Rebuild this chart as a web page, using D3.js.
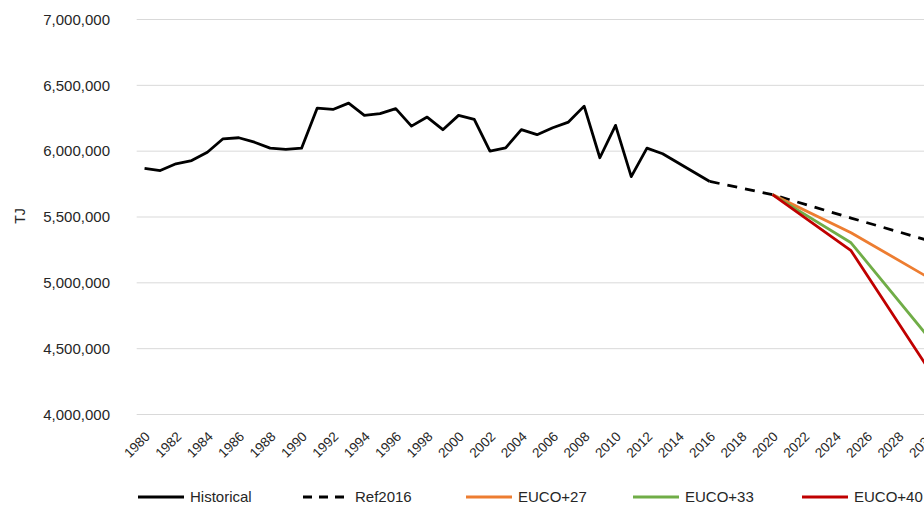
<!DOCTYPE html>
<html>
<head>
<meta charset="utf-8">
<script src="https://cdn.jsdelivr.net/npm/d3@7"></script>
<style>
  body { margin: 0; background: #fff; }
  svg { display: block; font-family: "Liberation Sans", Arial, sans-serif; }
</style>
</head>
<body>
<svg id="drawspace" width="924" height="506"></svg>
<script>
let drawSpace = d3.select("#drawspace");

// years on the category axis
let years = d3.range(1980, 2031);
let tickYears = d3.range(1980, 2031, 2);
let yTicks = [4000000, 4500000, 5000000, 5500000, 6000000, 6500000, 7000000];

// historical consumption, TJ
let histYears = d3.range(1980, 2017);
let histValues = [5870000, 5853000, 5904000, 5929000, 5992000, 6094000, 6102000, 6068000,
  6023000, 6013000, 6023000, 6327000, 6317000, 6365000, 6272000, 6285000, 6323000,
  6190000, 6259000, 6163000, 6272000, 6241000, 6000000, 6025000, 6163000, 6125000,
  6178000, 6221000, 6342000, 5950000, 6196000, 5807000, 6023000, 5980000, 5910000,
  5840000, 5770000];

let refYears = [2016, 2020, 2025, 2030];
let refValues = [5770000, 5670000, 5492000, 5319000];

let eucoYears = [2020, 2025, 2030];
let euco27 = [5670000, 5381000, 5035000];
let euco33 = [5670000, 5304000, 4577000];
let euco40 = [5670000, 5244000, 4335000];

let series = [
  { name: "Historical", years: histYears, values: histValues, color: "#000000", dash: null },
  { name: "Ref2016", years: refYears, values: refValues, color: "#000000", dash: "10,8" },
  { name: "EUCO+27", years: eucoYears, values: euco27, color: "#ED7D31", dash: null },
  { name: "EUCO+33", years: eucoYears, values: euco33, color: "#70AD47", dash: null },
  { name: "EUCO+40", years: eucoYears, values: euco40, color: "#C00000", dash: null }
];

let textColor = "#262626";
let plotLeft = 136.7;
let step = 15.7;

let xScale = d3.scaleBand()
  .domain(years)
  .range([plotLeft, plotLeft + step * years.length]);

let xc = (yr) => xScale(yr) + xScale.bandwidth() / 2;

let yScale = d3.scaleLinear()
  .domain([4000000, 7000000])
  .range([414.5, 19.5]);

// gridlines
drawSpace.append("g")
  .selectAll("line")
  .data(yTicks)
  .enter()
  .append("line")
  .attr("x1", plotLeft)
  .attr("x2", plotLeft + step * years.length)
  .attr("y1", d => yScale(d))
  .attr("y2", d => yScale(d))
  .attr("stroke", "#d9d9d9")
  .attr("stroke-width", 1);

// y axis labels
let yAxis = d3.axisLeft(yScale)
  .tickValues(yTicks)
  .tickFormat(d3.format(","))
  .tickSize(0)
  .tickPadding(0);

drawSpace.append("g")
  .attr("transform", "translate(110,0)")
  .call(yAxis)
  .call(g => g.select(".domain").remove())
  .selectAll("text")
  .attr("font-size", 15)
  .attr("font-family", "Liberation Sans, Arial, sans-serif")
  .attr("fill", textColor);

drawSpace.append("text")
  .attr("transform", "translate(25,216) rotate(-90)")
  .attr("text-anchor", "middle")
  .attr("font-size", 14)
  .attr("fill", textColor)
  .text("TJ");

// x axis labels, rotated
drawSpace.append("g")
  .selectAll("text")
  .data(tickYears)
  .enter()
  .append("text")
  .attr("transform", d => "translate(" + (xc(d) + 3) + ",434) rotate(-45)")
  .attr("text-anchor", "end")
  .attr("dy", "0.35em")
  .attr("font-size", 13.5)
  .attr("fill", textColor)
  .text(d => d);

// lines
let lineGen = d3.line()
  .x(d => xc(d[0]))
  .y(d => yScale(d[1]));

drawSpace.append("g")
  .selectAll("path")
  .data(series)
  .enter()
  .append("path")
  .attr("d", s => lineGen(d3.zip(s.years, s.values)))
  .attr("fill", "none")
  .attr("stroke", s => s.color)
  .attr("stroke-width", 2.8)
  .attr("stroke-linejoin", "round")
  .attr("stroke-dasharray", s => s.dash);

// legend
let legendX = [138, 303, 466, 633, 802];
let legend = drawSpace.append("g")
  .selectAll("g")
  .data(series)
  .enter()
  .append("g")
  .attr("transform", (s, i) => "translate(" + legendX[i] + ",497)");

legend.append("line")
  .attr("x1", 0)
  .attr("x2", 46)
  .attr("stroke", s => s.color)
  .attr("stroke-width", 3)
  .attr("stroke-dasharray", s => s.dash ? "9,7" : null);

legend.append("text")
  .attr("x", 52)
  .attr("dy", "0.35em")
  .attr("font-size", 15)
  .attr("fill", textColor)
  .text(s => s.name);
</script>
</body>
</html>
